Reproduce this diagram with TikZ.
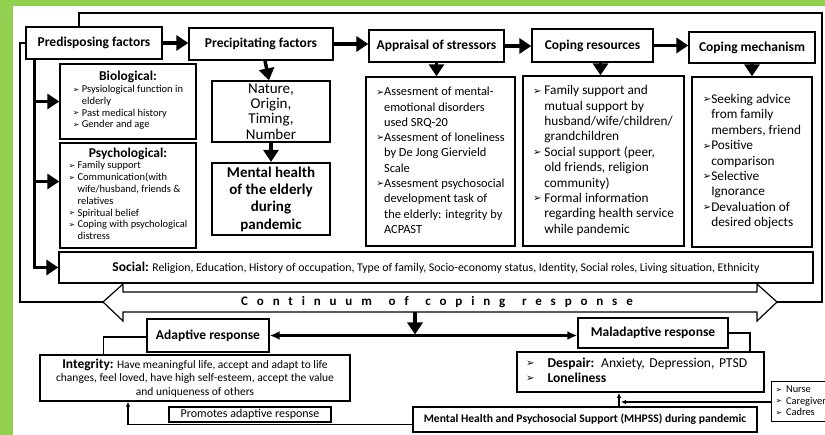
\documentclass[tikz,border=0pt]{standalone}
\usepackage{fontspec}
\setmainfont{Carlito}
\newfontfamily\symfont{DejaVu Sans}
\newfontfamily\spacedfont[LetterSpace=68, Ligatures=NoCommon]{Carlito}
\usepackage{graphicx}
\usetikzlibrary{arrows.meta}
\definecolor{leafgreen}{HTML}{92D050}
\newcommand{\bl}{\raisebox{0.05em}{\symfont\scalebox{0.75}{➢}}}
\newcommand{\fs}[2]{\fontsize{#1}{#2}\selectfont}

\tikzset{
  box/.style={draw, line width=1.3pt, inner sep=2pt},
  headbox/.style={box, font=\bfseries\fs{13.5}{16}},
  listbox/.style={box, align=center},
  bigarrow/.style={line width=3.5pt, -{Triangle[length=12pt,width=15pt]}},
  frameline/.style={line width=1.2pt},
  thinarrow/.style={line width=1.2pt, -{Latex[length=5pt,width=4.5pt]}},
}

\begin{document}
\begin{tikzpicture}[x=1pt,y=-1pt]
\useasboundingbox (0,0) rectangle (825,435);
\fill[leafgreen] (0,0) rectangle (825,435);
\fill[white] (13,6) rectangle (825,435);

% top row
\node[headbox, minimum width=136pt, minimum height=32pt] (pred) at (94,43) {Predisposing factors};
\node[headbox, minimum width=144pt, minimum height=32pt] (prec) at (261,44) {Precipitating factors};
\node[headbox, minimum width=135pt, minimum height=32pt] (appr) at (436.5,46) {Appraisal of stressors};
\node[headbox, minimum width=121pt, minimum height=33pt] (cres) at (592.5,45.5) {Coping resources};
\node[headbox, minimum width=126pt, minimum height=31pt] (cmech) at (752,47.5) {Coping mechanism};

% predisposing factors
\node[listbox, minimum width=136pt, minimum height=75pt, font=\fs{10.5}{11.8}] (bio) at (128,101.5)
  {{\bfseries\fs{13.5}{15}Biological:}\\
   \begin{tabular}{@{}l@{\ }l@{}}
   \bl & Psysiological function in\\
       & elderly\\
   \bl & Past medical history\\
   \bl & Gender and age
   \end{tabular}};
\node[listbox, minimum width=136pt, minimum height=105pt, font=\fs{10.5}{11.8}] (psy) at (128,195.5)
  {{\bfseries\fs{13.5}{15}Psychological:}\\
   \begin{tabular}{@{}l@{\ }l@{}}
   \bl & Family support\\
   \bl & Communication(with\\
       & wife/husband, friends \&\\
       & relatives\\
   \bl & Spiritual belief\\
   \bl & Coping with psychological\\
       & distress
   \end{tabular}};
\node[box, minimum width=754pt, minimum height=31pt, font=\fs{11.8}{13}] (soc) at (436,267.5)
  {{\bfseries\fs{13.5}{15}Social:} Religion, Education, History of occupation, Type of family, Socio-economy status, Identity, Social roles, Living situation, Ethnicity};

% precipitating factors
\node[box, inner sep=0pt, minimum width=118pt, minimum height=61pt, align=center, font=\fs{15}{15.3}] (nat) at (271,111.5)
  {Nature,\\Origin,\\Timing,\\Number};
\node[box, line width=2.2pt, inner sep=0pt, minimum width=118pt, minimum height=72pt, align=center, font=\bfseries\fs{15}{17.3}] (mh) at (271,199)
  {Mental health\\of the elderly\\during\\pandemic};

% appraisal, resources, mechanism
\node[listbox, minimum width=149pt, minimum height=169pt, font=\fs{12.4}{15.3}] (apprl) at (440.5,161.5)
  {\begin{tabular}{@{}l@{}l@{}}
   \bl & Assesment of mental-\\
       & emotional disorders\\
       & used SRQ-20\\
   \bl & Assesment of loneliness\\
       & by De Jong Giervield\\
       & Scale\\
   \bl & Assesment psychosocial\\
       & development task of\\
       & the elderly: integrity by\\
       & ACPAST
   \end{tabular}};
\node[listbox, minimum width=161pt, minimum height=170pt, font=\fs{13.3}{15.4}] (cresl) at (603.5,161)
  {\begin{tabular}{@{}l@{\hspace{3pt}}l@{}}
   \bl & Family support and\\
       & mutual support by\\
       & husband/wife/children/\\
       & grandchildren\\
   \bl & Social support (peer,\\
       & old friends, religion\\
       & community)\\
   \bl & Formal information\\
       & regarding health service\\
       & while pandemic
   \end{tabular}};
\node[listbox, minimum width=120pt, minimum height=170pt, font=\fs{13.3}{15.4}] (cmechl) at (752,162)
  {\begin{tabular}{@{}l@{}l@{}}
   \bl & Seeking advice\\
       & from family\\
       & members, friend\\
   \bl & Positive\\
       & comparison\\
   \bl & Selective\\
       & Ignorance\\
   \bl & Devaluation of\\
       & desired objects
   \end{tabular}};

% continuum of coping response
\coordinate (ltip) at (103,302);
\coordinate (rtip) at (777,302);
\draw[frameline, fill=white] (ltip) -- (123,284) -- (123,292) -- (757,292) -- (757,284) -- (rtip)
  -- (757,321) -- (757,312) -- (123,312) -- (123,321) -- cycle;
\node[font=\spacedfont\bfseries\fs{13}{15}] (cont) at (437,302) {Continuum\hspace{5pt} of\hspace{5pt} coping\hspace{5pt} response};

% responses
\node[headbox, minimum width=122pt, minimum height=33pt] (adap) at (208,335.5) {Adaptive response};
\node[headbox, minimum width=150pt, minimum height=30pt] (malad) at (653,333) {Maladaptive response};
\node[box, minimum width=310pt, minimum height=46pt, align=center, font=\fs{11.5}{13.3}] (integ) at (195,378)
  {{\bfseries\fs{13.5}{13.3}Integrity:} Have meaningful life, accept and adapt to life\\
   changes, feel loved, have high self-esteem, accept the value\\
   and uniqueness of others};
\node[box, line width=1.8pt, minimum width=247pt, minimum height=40pt, text width=229pt, inner xsep=9pt, align=left, font=\fs{13.6}{15}] (desp) at (640.5,372)
  {\begin{tabular}{@{}l@{\hspace{13pt}}l@{}}
   \bl & \textbf{Despair:} Anxiety, Depression, PTSD\\
   \bl & \textbf{Loneliness}
   \end{tabular}};
\node[box, minimum width=344pt, minimum height=25pt, font=\bfseries\fs{11.6}{13}] (mhpss) at (585,419.5)
  {Mental Health and Psychosocial Support (MHPSS) during pandemic};
\node[box, inner sep=0pt, minimum width=162pt, minimum height=15pt, font=\fs{12}{13}] (prom) at (250,414.5)
  {Promotes adaptive response};
\node[box, line width=1pt, minimum width=69pt, minimum height=40pt, text width=60pt, inner xsep=4.5pt, align=left, font=\fs{10.4}{11.3}] (staff) at (805.5,402)
  {\begin{tabular}{@{}l@{\hspace{4pt}}l@{}}
   \bl & Nurse\\
   \bl & Caregiver\\
   \bl & Cadres
   \end{tabular}};

% frame lines
\draw[frameline] ([xshift=-15pt]pred.north) |- (822,13) |- (rtip);
\draw[frameline] (pred.west) -| (20,302) -- (ltip);

% top row arrows
\draw[bigarrow] (pred.east) -- (prec.west |- pred.east);
\draw[bigarrow] (prec.east) -- (appr.west |- prec.east);
\draw[bigarrow] (appr.east) -- (cres.west |- appr.east);
\draw[bigarrow] (cres.east) -- (cmech.west |- cres.east);
\draw[bigarrow] ([xshift=4pt]prec.south) -- ([xshift=-2pt]nat.north);
\draw[bigarrow] (nat.south) -- (mh.north);
\draw[bigarrow] (appr.south) -- (appr.south |- apprl.north);
\draw[bigarrow] ([xshift=-3pt]cresl.north |- cres.south) -- ([xshift=-3pt]cresl.north);
\draw[bigarrow] (cmech.south) -- (cmech.south |- cmechl.north);

% predisposing trunk
\coordinate (trunk) at ([xshift=9pt]pred.south west);
\coordinate (psyin) at ([yshift=14pt]psy.west);
\draw[bigarrow] (trunk) |- (soc.west);
\draw[bigarrow] (trunk |- bio.west) -- (bio.west);
\draw[bigarrow] (trunk |- psyin) -- (psyin);

% responses
\coordinate (cbot) at (415,312);
\draw[bigarrow] (cbot) -- ([yshift=1pt]cbot |- adap.east);
\draw[line width=2.6pt, {Latex[length=10pt,width=9pt]}-{Latex[length=10pt,width=9pt]}] (adap.east) -- (adap.east -| malad.west);
\draw[frameline] ([yshift=-1.5pt]adap.west) -| ([xshift=64pt]integ.north west);
\draw[frameline] (malad.east) -| ([xshift=-15pt]desp.north east);

% support
\coordinate (mup) at ([xshift=34pt]mhpss.north);
\draw[thinarrow] (mup) -- (mup |- desp.south);
\draw[thinarrow] (staff.west) -- ([xshift=2pt]mup |- staff.west);
\draw[thinarrow] ([yshift=-5pt]mhpss.west) -| ([xshift=-67pt]integ.south);
\end{tikzpicture}
\end{document}
